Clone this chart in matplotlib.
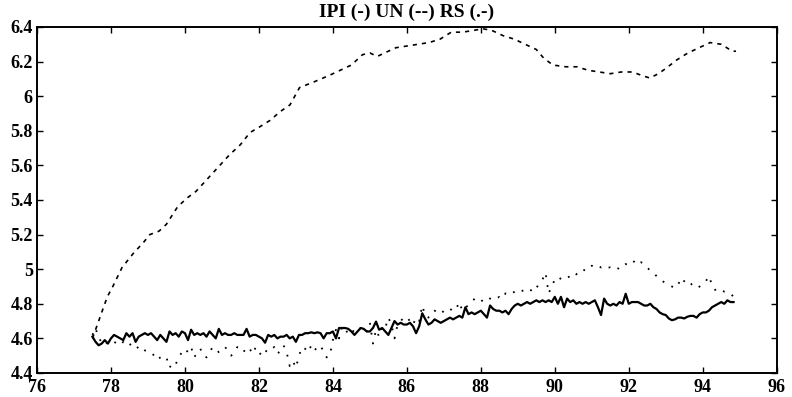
import numpy as np
import matplotlib
matplotlib.use("Agg")
import matplotlib.pyplot as plt

# monthly IPI, Jul 1977 .. Nov 1994
ipi = [
    4.61, 4.58, 4.56, 4.57, 4.59, 4.57,
    4.60, 4.62, 4.61, 4.60, 4.59, 4.63, 4.61, 4.63, 4.58, 4.61, 4.62, 4.63,
    4.62, 4.63, 4.61, 4.59, 4.62, 4.60, 4.58, 4.64, 4.62, 4.63, 4.61, 4.64,
    4.63, 4.59, 4.65, 4.62, 4.63, 4.62, 4.63, 4.61, 4.64, 4.62, 4.60, 4.655,
    4.62, 4.63, 4.62, 4.62, 4.63, 4.62, 4.62, 4.62, 4.655, 4.61, 4.62, 4.62,
    4.61, 4.60, 4.575, 4.62, 4.61, 4.62, 4.60, 4.61, 4.61, 4.62, 4.60, 4.61,
    4.58, 4.62, 4.62, 4.63, 4.63, 4.635, 4.63, 4.635, 4.63, 4.60, 4.63, 4.63,
    4.64, 4.60, 4.66, 4.66, 4.66, 4.655, 4.64, 4.62, 4.64, 4.66, 4.655, 4.64,
    4.64, 4.66, 4.697, 4.65, 4.66, 4.64, 4.62, 4.66, 4.70, 4.68, 4.69, 4.68,
    4.68, 4.69, 4.67, 4.63, 4.67, 4.745, 4.71, 4.68, 4.69, 4.71, 4.70, 4.69,
    4.70, 4.71, 4.72, 4.71, 4.72, 4.73, 4.72, 4.78, 4.74, 4.75, 4.74, 4.75,
    4.76, 4.74, 4.72, 4.79, 4.77, 4.76, 4.76, 4.75, 4.76, 4.74, 4.77, 4.79,
    4.80, 4.79, 4.80, 4.81, 4.80, 4.81, 4.82, 4.81, 4.82, 4.81, 4.82, 4.81,
    4.84, 4.80, 4.84, 4.78, 4.83, 4.81, 4.82, 4.80, 4.81, 4.80, 4.81, 4.80,
    4.81, 4.82, 4.78, 4.735, 4.83, 4.80, 4.79, 4.80, 4.79, 4.81, 4.80, 4.858,
    4.80, 4.81, 4.81, 4.81, 4.80, 4.79, 4.79, 4.80, 4.78, 4.77, 4.75, 4.74,
    4.735, 4.715, 4.705, 4.71, 4.72, 4.72, 4.715, 4.725, 4.73, 4.73, 4.72, 4.74,
    4.75, 4.75, 4.76, 4.78, 4.79, 4.80, 4.81, 4.80, 4.82, 4.81, 4.81,
]

# monthly RS, same months
rs = [
    4.62, 4.66, 4.60, 4.58, 4.56, 4.58,
    4.57, 4.58, 4.57, 4.56, 4.58, 4.56, 4.57, 4.55, 4.56, 4.54, 4.55, 4.53,
    4.53, 4.52, 4.50, 4.475, 4.49, 4.50, 4.49, 4.43, 4.46, 4.45, 4.49, 4.52,
    4.54, 4.52, 4.55, 4.49, 4.52, 4.54, 4.50, 4.49, 4.52, 4.55, 4.54, 4.52,
    4.53, 4.55, 4.53, 4.50, 4.52, 4.55, 4.53, 4.52, 4.55, 4.54, 4.51, 4.55,
    4.52, 4.50, 4.53, 4.52, 4.54, 4.55, 4.51, 4.53, 4.56, 4.52, 4.44, 4.47,
    4.43, 4.50, 4.55, 4.54, 4.52, 4.56, 4.53, 4.55, 4.56, 4.52, 4.49, 4.50,
    4.59, 4.65, 4.60, 4.67, 4.66, 4.62, 4.63, 4.65, 4.64, 4.66, 4.63, 4.64,
    4.69, 4.57, 4.65, 4.61, 4.67, 4.66, 4.72, 4.68, 4.60, 4.68, 4.70, 4.72,
    4.70, 4.71, 4.68, 4.72, 4.70, 4.79, 4.73, 4.72, 4.75, 4.76, 4.75, 4.74,
    4.76, 4.75, 4.76, 4.78, 4.77, 4.81, 4.76, 4.78, 4.79, 4.81, 4.83, 4.82,
    4.81, 4.83, 4.84, 4.83, 4.82, 4.83, 4.84, 4.83, 4.86, 4.85, 4.86, 4.87,
    4.88, 4.87, 4.88, 4.88, 4.87, 4.90, 4.89, 4.92, 4.94, 4.98, 4.86, 4.90,
    4.94, 4.93, 4.95, 4.94, 4.95, 4.96, 4.98, 4.97, 4.99, 5.00, 4.99, 5.01,
    5.02, 5.01, 5.02, 5.01, 5.02, 5.01, 5.01, 5.00, 5.01, 5.00, 5.01, 5.03,
    5.02, 5.03, 5.05, 5.03, 5.04, 5.03, 5.01, 4.99, 4.98, 4.96, 4.94, 4.93,
    4.92, 4.91, 4.90, 4.89, 4.91, 4.95, 4.93, 4.91, 4.92, 4.90, 4.89, 4.90,
    4.91, 4.93, 4.96, 4.91, 4.88, 4.89, 4.88, 4.87, 4.87, 4.86, 4.84,
]

# UN read at irregular dates (smooth series)
un_years = [77.5, 77.6, 77.7, 77.9, 78.05, 78.3, 78.6, 78.9, 79.05, 79.3, 79.5,
            79.8, 80.05, 80.3, 80.6, 80.9, 81.2, 81.5, 81.76, 82.0, 82.3, 82.57,
            82.84, 83.1, 83.46, 83.9, 84.2, 84.5, 84.8, 85.0, 85.2, 85.4, 85.7,
            86.0, 86.3, 86.6, 86.9, 87.2, 87.5, 87.8, 88.05, 88.3, 88.6, 88.9,
            89.2, 89.5, 89.7, 89.95, 90.3, 90.6, 90.9, 91.2, 91.5, 91.8, 92.1,
            92.35, 92.57, 92.8, 93.0, 93.3, 93.6, 93.9, 94.2, 94.5, 94.8, 94.9]
un = [4.60, 4.66, 4.72, 4.84, 4.90, 5.01, 5.09, 5.16, 5.20, 5.22, 5.26,
      5.36, 5.41, 5.45, 5.52, 5.59, 5.66, 5.72, 5.79, 5.82, 5.86, 5.91,
      5.95, 6.05, 6.08, 6.12, 6.15, 6.18, 6.24, 6.25, 6.23, 6.25, 6.28,
      6.29, 6.30, 6.31, 6.33, 6.37, 6.37, 6.38, 6.39, 6.38, 6.35, 6.33,
      6.30, 6.27, 6.22, 6.18, 6.17, 6.17, 6.15, 6.14, 6.13, 6.14, 6.14,
      6.12, 6.105, 6.13, 6.16, 6.21, 6.25, 6.28, 6.31, 6.30, 6.26, 6.26]

months = 77.5 + np.arange(len(ipi)) / 12.0

plt.rcParams['font.family'] = ['Liberation Serif', 'DejaVu Serif']
plt.rcParams['font.weight'] = 'bold'

fig = plt.figure(figsize=(7.92, 3.97), dpi=100)
ax = fig.add_axes([0.0467, 0.0605, 0.934, 0.8715])

ax.plot(months, ipi, color='black', lw=1.6, ls='-')
ax.plot(un_years, un, color='black', lw=1.2, ls=(0, (2.5, 3)))
ax.plot(months, rs, color='black', lw=1.3, ls=(0, (1, 4.5)))

ax.set_xlim(76, 96)
ax.set_ylim(4.4, 6.4)
ax.set_xticks(np.arange(76, 97, 2))
ax.set_yticks(np.arange(4.4, 6.41, 0.2))
ax.set_yticklabels(['4.4', '4.6', '4.8', '5', '5.2', '5.4', '5.6', '5.8', '6', '6.2', '6.4'])
ax.tick_params(direction='in', top=True, right=True, length=4, width=1,
               labelsize=13)
ax.tick_params(axis='y', pad=3)
ax.tick_params(axis='x', pad=4)
for lab in ax.get_xticklabels() + ax.get_yticklabels():
    lab.set_fontweight('bold')
for s in ax.spines.values():
    s.set_linewidth(1.4)

ax.set_title('IPI (-) UN (--) RS (.-)', fontsize=14, fontweight='bold', pad=7)

fig.savefig('out.png', dpi=100)
